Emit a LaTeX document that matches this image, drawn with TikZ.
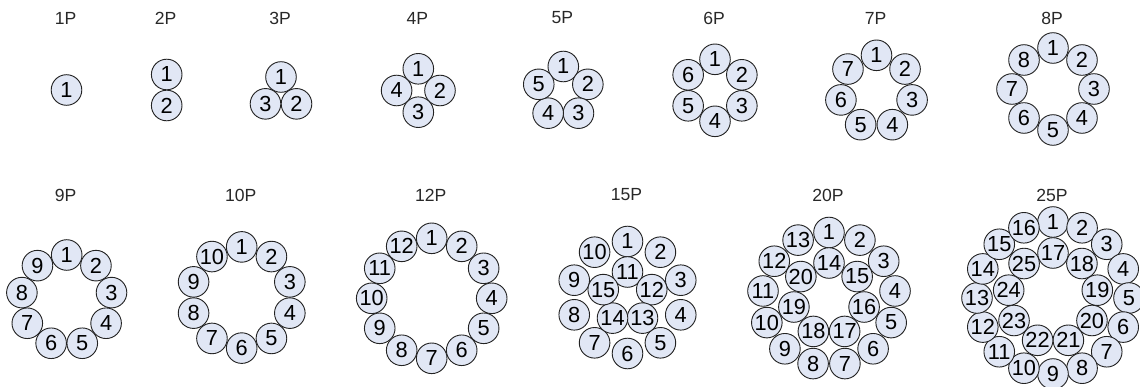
\documentclass[tikz,border=0pt]{standalone}
\usepackage{fontspec}
\setmainfont{Liberation Sans}
\usepackage{tikz}
\usetikzlibrary{calc, positioning}

\definecolor{pinfill}{RGB}{225,231,245}
\definecolor{pinline}{RGB}{35,35,35}
\definecolor{capgray}{RGB}{40,40,40}

\begin{document}
\begin{tikzpicture}[
  x=0.025cm, y=-0.025cm,
  pin/.style={circle, draw=pinline, fill=pinfill, line width=.65pt,
    minimum size=.765cm, inner sep=0pt, text=black,
    font=\fontsize{15.5}{15.5}\selectfont},
  caption/.style={text=capgray, font=\fontsize{12.5}{13}\selectfont}]

  \useasboundingbox (0,0) rectangle (1140,387);

  % outer ring of every layout: name/centre x/centre y/count/radius/caption y
  \foreach \lab/\cx/\cy/\n/\r/\ty in {
      1/66.5/90/1/0/18, 2/166.7/90/2/15.5/18, 3/281/94.9/3/17.9/18,
      4/418.3/90.5/4/21.7/18, 5/563.3/92.3/5/25.8/18, 6/715/90.3/6/31/18,
      7/876.5/91.8/7/36.5/18, 8/1053/89/8/41/18,
      9/66.7/300.5/9/45.5/195, 10/241.7/297.5/10/50.6/195,
      12/431.7/298.3/12/60/195, 15/627.5/297.5/10/56/195,
      20/829/299/13/66.5/195, 25/1053/298/16/76/195}
  {
    \node[caption] (t\lab) at (\cx-1,\ty) {\lab P};
    \coordinate (c\lab) at (\cx,\cy);
    \foreach \k in {1,...,\n}
      \node[pin] (p\lab-\k) at ($(c\lab)+({-90+(\k-1)*360/\n}:\r)$) {\k};
  }

  % inner rings: name/count/radius/first number
  \foreach \lab/\n/\r/\first in {15/5/25.5/11, 20/7/36/14, 25/9/45/17}
  {
    \foreach \k in {1,...,\n}{
      \pgfmathtruncatemacro{\num}{\first+\k-1}
      \node[pin] (p\lab-\num) at ($(c\lab)+({-90+(\k-1)*360/\n}:\r)$) {\num};
    }
  }
\end{tikzpicture}
\end{document}
